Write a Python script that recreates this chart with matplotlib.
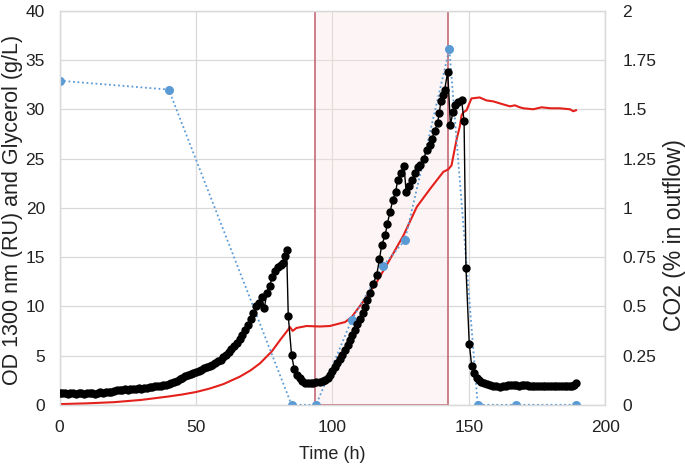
import matplotlib
matplotlib.use("Agg")
import matplotlib.pyplot as plt
from matplotlib.patches import Rectangle

plt.rcParams['font.family'] = ['Liberation Sans', 'DejaVu Sans']

# ---- data ----
co2_t = [0, 1, 2, 3, 4, 5, 6, 7, 8, 9, 10, 11, 12, 13, 14, 15, 16, 17, 18, 19,
         20, 21, 22, 23, 24, 25, 26, 27, 28, 29, 30, 31, 32, 33, 34, 35, 36, 37, 38, 39,
         40, 41, 42, 43, 44, 45, 46, 47, 48, 49, 50, 51, 52, 53, 54, 55, 56, 57, 58, 59,
         60, 61, 62, 63, 64, 65, 66, 67, 68, 69, 70, 71, 72, 73, 74, 75, 76, 77, 78, 79,
         80, 81, 82, 82.6, 83.2, 83.8, 85, 86, 87, 88, 89, 90, 91, 92, 93, 94,
         95.4, 96.4, 97.3, 98.2, 99.1, 100, 100.9, 101.8, 102.7, 103.6, 104.6, 105.5,
         106.4, 107.3, 108.2, 109.1, 110.1, 111, 111.9, 112.8, 113.7, 114.9, 116.2,
         117.2, 118, 119.3, 120.1, 121.1, 122.1, 123.1, 123.9, 125, 126.2, 127, 128.2,
         129.2, 130.3, 131.2, 132.1, 133.4, 134.6, 135.6, 136.4, 137.5, 138.5, 139.1,
         139.7, 140.4, 141.1, 142.2, 143.2, 144.1, 145, 146.1, 147.3, 148.2, 148.9,
         150.1, 151, 151.8, 152.8, 153.6, 154.3, 155.5, 156.5, 157.7, 158.9, 160,
         161.4, 162.5, 163.5, 164.4, 165.5, 166.5, 167.4, 168.5, 169.5, 170.3, 171.1,
         172, 173, 174, 174.8, 176, 177, 178, 179, 180, 181, 182, 183, 184, 185, 186,
         187, 187.6, 188.5, 189.2]
co2 = [0.060, 0.058, 0.060, 0.055, 0.060, 0.058, 0.055, 0.060, 0.060, 0.055,
       0.060, 0.058, 0.060, 0.055, 0.060, 0.063, 0.060, 0.065, 0.065, 0.063,
       0.070, 0.073, 0.075, 0.073, 0.078, 0.075, 0.080, 0.078, 0.080, 0.083,
       0.080, 0.085, 0.085, 0.088, 0.090, 0.093, 0.093, 0.098, 0.100, 0.103,
       0.105, 0.110, 0.115, 0.123, 0.130, 0.138, 0.145, 0.150, 0.155, 0.163,
       0.168, 0.170, 0.178, 0.185, 0.190, 0.195, 0.200, 0.210, 0.220, 0.230,
       0.243, 0.253, 0.268, 0.283, 0.298, 0.313, 0.335, 0.355, 0.380, 0.405,
       0.435, 0.465, 0.500, 0.515, 0.545, 0.490, 0.570, 0.605, 0.650, 0.680,
       0.700, 0.710, 0.720, 0.755, 0.785, 0.450, 0.253, 0.180, 0.150, 0.135,
       0.123, 0.113, 0.110, 0.110, 0.113, 0.115,
       0.115, 0.122, 0.128, 0.138, 0.150, 0.170, 0.193, 0.213, 0.235, 0.255,
       0.278, 0.303, 0.328, 0.353, 0.380, 0.410, 0.438, 0.468, 0.498, 0.530,
       0.565, 0.615, 0.660, 0.738, 0.810, 0.860, 0.920, 0.980, 1.040, 1.080,
       1.140, 1.175, 1.210, 1.080, 1.110, 1.140, 1.175, 1.205, 1.215, 1.250,
       1.295, 1.320, 1.350, 1.390, 1.430, 1.480, 1.540, 1.570, 1.600, 1.690,
       1.420, 1.485, 1.520, 1.535, 1.545, 1.440, 0.693, 0.310, 0.197, 0.160,
       0.135, 0.125, 0.117, 0.110, 0.105, 0.100, 0.095, 0.093, 0.090, 0.093,
       0.098, 0.100, 0.100, 0.100, 0.100, 0.098, 0.100, 0.100, 0.100, 0.098,
       0.095, 0.098, 0.095, 0.093, 0.093, 0.093, 0.093, 0.093, 0.093, 0.093,
       0.093, 0.093, 0.093, 0.093, 0.093, 0.095, 0.100, 0.112]

od_t = [0, 10, 20, 30, 40, 45, 50, 55, 60, 66, 70, 73.4, 77.7, 80.8, 83.8,
        84.4, 85.4, 86.8, 90.5, 95.4, 99, 104.6, 107, 111.3, 116.2, 121.1, 126,
        130.9, 135.7, 140.6, 142.4, 143.6, 145.5, 146.6, 147.3, 148, 149.1, 150.9,
        153.9, 156.4, 158.9, 162.5, 165, 166.8, 168.6, 170, 173.5, 176.6, 180,
        183.3, 187, 188.2, 189.2]
od = [0.07, 0.15, 0.27, 0.50, 0.85, 1.05, 1.30, 1.65, 2.10, 2.85, 3.50, 4.20,
      5.40, 6.57, 7.65, 7.90, 7.50, 7.80, 8.00, 7.95, 8.00, 8.40, 8.90, 10.50,
      12.45, 14.80, 17.20, 20.10, 21.90, 23.65, 23.90, 24.30, 27.00, 28.20,
      29.40, 29.70, 29.90, 31.10, 31.20, 30.90, 30.80, 30.50, 30.30, 30.40,
      30.20, 30.10, 30.00, 30.20, 30.10, 30.10, 30.00, 29.80, 29.90]

gly_t = [0, 40, 85, 94, 107, 118.5, 126.5, 142.8, 153.2, 167.2, 189.2]
gly = [32.9, 32.0, 0, 0, 8.6, 14.1, 16.7, 36.1, 0, 0, 0]

shade_start, shade_end = 93.6, 142.4

xticks = [0, 50, 100, 150, 200]
yticks_left = [0, 5, 10, 15, 20, 25, 30, 35, 40]
yticks_right = [0, 0.25, 0.5, 0.75, 1, 1.25, 1.5, 1.75, 2]
yticklabels_right = ['0', '0.25', '0.5', '0.75', '1', '1.25', '1.5', '1.75', '2']

# ---- figure ----
fig = plt.figure(figsize=(6.85, 4.68), dpi=100)
ax = fig.add_axes([0.0869, 0.135, 0.797, 0.842])
ax2 = ax.twinx()

grid_c = '#d9d9d9'
txt_c = '#222222'
ax.set_xlim(0, 200)
ax.set_ylim(0, 40)
ax2.set_ylim(0, 2)
ax.set_xticks(xticks)
ax.set_yticks(yticks_left)
ax2.set_yticks(yticks_right)
ax2.set_yticklabels(yticklabels_right)
ax.grid(True, color=grid_c, lw=0.9)
ax.set_axisbelow(True)
for a in (ax, ax2):
    for s in a.spines.values():
        s.set_color(grid_c)
        s.set_linewidth(0.9)
    a.tick_params(length=0, labelsize=12.5, colors=txt_c)
ax.tick_params(axis='y', pad=10.5)
ax.tick_params(axis='x', pad=11)
ax2.tick_params(axis='y', pad=12)

ax.add_patch(Rectangle((shade_start, 0), shade_end - shade_start, 40,
                       facecolor='#fbe3e3', alpha=0.35, edgecolor='none', zorder=1))
ax.add_patch(Rectangle((shade_start, 0), shade_end - shade_start, 40,
                       facecolor='none', edgecolor='#c46a75', lw=1.2, zorder=1.5))

ax.plot(od_t, od, color='#e3201b', lw=1.5, zorder=3)
ax.plot(gly_t, gly, color='#5b9bd5', lw=1.3, ls=(0, (1, 1.5)), marker='o',
        ms=5.5, zorder=4)
ax2.plot(co2_t, co2, color='black', lw=1.0, marker='o', ms=5.0, zorder=3)

ax.set_xlabel('Time (h)', fontsize=13, color=txt_c, labelpad=8)
ax.set_ylabel('OD 1300 nm (RU) and Glycerol (g/L)', fontsize=15.5, color=txt_c)
ax.yaxis.set_label_coords(-0.066, 0.495)
ax2.set_ylabel('CO2 (% in outflow)', fontsize=16.5, color=txt_c)
ax2.yaxis.set_label_coords(1.106, 0.43)

fig.savefig('out.png', dpi=100)
